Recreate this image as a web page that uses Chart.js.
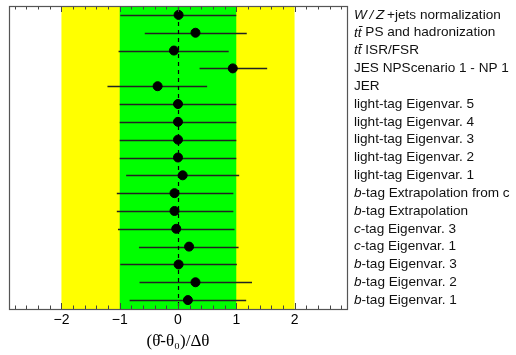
<!DOCTYPE html>
<html>
<head>
<meta charset="utf-8">
<script src="https://cdn.jsdelivr.net/npm/chart.js@4.4.0/dist/chart.umd.min.js"></script>
<style>
  html, body { margin: 0; padding: 0; background: #fff; }
  #wrap { width: 516px; height: 355px; }
</style>
</head>
<body>
<div id="wrap"><canvas id="pulls"></canvas></div>
<script>
'use strict';

// nuisance parameter names, top to bottom; each is a list of [text, italic]
const params = [
  [['W\u2009/\u2009Z', 1], ['\u2009+jets normalization', 0]],
  [['tt\u0304', 1], [' PS and hadronization', 0]],
  [['tt\u0304', 1], [' ISR/FSR', 0]],
  [['JES NPScenario 1 - NP 1', 0]],
  [['JER', 0]],
  [['light-tag Eigenvar. 5', 0]],
  [['light-tag Eigenvar. 4', 0]],
  [['light-tag Eigenvar. 3', 0]],
  [['light-tag Eigenvar. 2', 0]],
  [['light-tag Eigenvar. 1', 0]],
  [['b', 1], ['-tag Extrapolation from c', 0]],
  [['b', 1], ['-tag Extrapolation', 0]],
  [['c', 1], ['-tag Eigenvar. 3', 0]],
  [['c', 1], ['-tag Eigenvar. 1', 0]],
  [['b', 1], ['-tag Eigenvar. 3', 0]],
  [['b', 1], ['-tag Eigenvar. 2', 0]],
  [['b', 1], ['-tag Eigenvar. 1', 0]]
];

// fitted pull and the low / high ends of its error bar
const pull = [0.01, 0.30, -0.07, 0.94, -0.35, 0.00, 0.00, 0.00, 0.00, 0.08, -0.06, -0.06, -0.03, 0.19, 0.01, 0.30, 0.17];
const errLo = [-0.99, -0.57, -1.02, 0.37, -1.21, -1.00, -1.00, -1.00, -1.00, -0.89, -1.05, -1.05, -1.03, -0.67, -0.99, -0.66, -0.83];
const errHi = [1.00, 1.18, 0.87, 1.53, 0.50, 1.00, 1.00, 1.00, 1.00, 1.05, 0.95, 0.95, 0.97, 1.04, 1.01, 1.27, 1.17];

const xTicks = [-2, -1, 0, 1, 2];
const bands = [{ lo: -2, hi: 2, color: '#ffff00' }, { lo: -1, hi: 1, color: '#00ff00' }];

const SANS = '"Liberation Sans", Arial, sans-serif';

const points = pull.map((v, i) => ({ x: v, y: i }));

// 1 and 2 sigma bands, error bars and the dashed line at zero
const bandPlugin = {
  id: 'bands',
  beforeDatasetsDraw(chart) {
    const { ctx, chartArea: a, scales: { x, y } } = chart;
    ctx.save();
    bands.forEach(b => {
      const x0 = x.getPixelForValue(b.lo), x1 = x.getPixelForValue(b.hi);
      ctx.fillStyle = b.color;
      ctx.fillRect(x0, a.top, x1 - x0, a.bottom - a.top);
    });
    ctx.strokeStyle = '#222';
    ctx.lineWidth = 1.3;
    pull.forEach((v, i) => {
      const py = Math.round(y.getPixelForValue(i)) + 0.5;
      ctx.beginPath();
      ctx.moveTo(x.getPixelForValue(errLo[i]), py);
      ctx.lineTo(x.getPixelForValue(errHi[i]), py);
      ctx.stroke();
    });
    const zx = Math.round(x.getPixelForValue(0)) + 0.5;
    ctx.strokeStyle = '#000';
    ctx.lineWidth = 1.2;
    ctx.setLineDash([4, 4]);
    ctx.beginPath();
    ctx.moveTo(zx, a.top);
    ctx.lineTo(zx, a.bottom);
    ctx.stroke();
    ctx.restore();
  }
};

// frame, inward ticks and the parameter names on the right
const framePlugin = {
  id: 'frame',
  afterDraw(chart) {
    const { ctx, chartArea: a, scales: { x, y } } = chart;
    ctx.save();
    ctx.strokeStyle = '#444';
    ctx.lineWidth = 1;
    for (let k = -14; k <= 14; k++) {
      const px = Math.round(x.getPixelForValue(k / 5)) + 0.5;
      const len = (k % 5 === 0) ? 6 : 3.5;
      ctx.beginPath();
      ctx.moveTo(px, a.bottom);
      ctx.lineTo(px, a.bottom - len);
      ctx.moveTo(px, a.top);
      ctx.lineTo(px, a.top + len);
      ctx.stroke();
    }
    ctx.strokeStyle = '#555';
    ctx.lineWidth = 1.2;
    ctx.strokeRect(a.left + 0.5, a.top + 0.5, a.right - a.left, a.bottom - a.top);

    ctx.fillStyle = '#111';
    ctx.textBaseline = 'middle';
    params.forEach((parts, i) => {
      let px = a.right + 7;
      const py = y.getPixelForValue(i);
      parts.forEach(([txt, it]) => {
        ctx.font = (it ? 'italic ' : '') + '13.6px ' + SANS;
        ctx.fillText(txt, px, py);
        px += ctx.measureText(txt).width;
      });
    });
    ctx.restore();
  }
};

new Chart(document.getElementById('pulls'), {
  type: 'scatter',
  data: {
    datasets: [{
      data: points,
      backgroundColor: '#000',
      borderColor: '#000',
      pointRadius: 4.5,
      pointHoverRadius: 4.5
    }]
  },
  options: {
    responsive: true,
    maintainAspectRatio: false,
    animation: false,
    layout: { padding: { left: 9, top: 6, right: 0, bottom: 0 } },
    plugins: { legend: { display: false }, tooltip: { enabled: false } },
    scales: {
      x: {
        type: 'linear',
        min: -2.9,
        max: 2.9,
        afterBuildTicks(scale) { scale.ticks = xTicks.map(v => ({ value: v })); },
        afterFit(scale) { scale.height = 46; },
        grid: { display: false, drawTicks: false },
        border: { display: false },
        ticks: {
          color: '#000',
          font: { family: SANS, size: 14 },
          padding: 3,
          callback: v => (v < 0 ? '\u2212' + Math.abs(v) : String(v))
        },
        title: {
          display: true,
          text: '(\u03b8\u0302-\u03b8\u2080)/\u0394\u03b8',
          color: '#000',
          font: { family: '"Liberation Serif", "Times New Roman", serif', size: 17 },
          padding: { top: 0, bottom: 3 }
        }
      },
      y: {
        type: 'linear',
        position: 'right',
        reverse: true,
        min: -0.5,
        max: 16.5,
        afterFit(scale) { scale.width = 169; },
        grid: { display: false },
        border: { display: false },
        ticks: { display: false }
      }
    }
  },
  plugins: [bandPlugin, framePlugin]
});
</script>
</body>
</html>
